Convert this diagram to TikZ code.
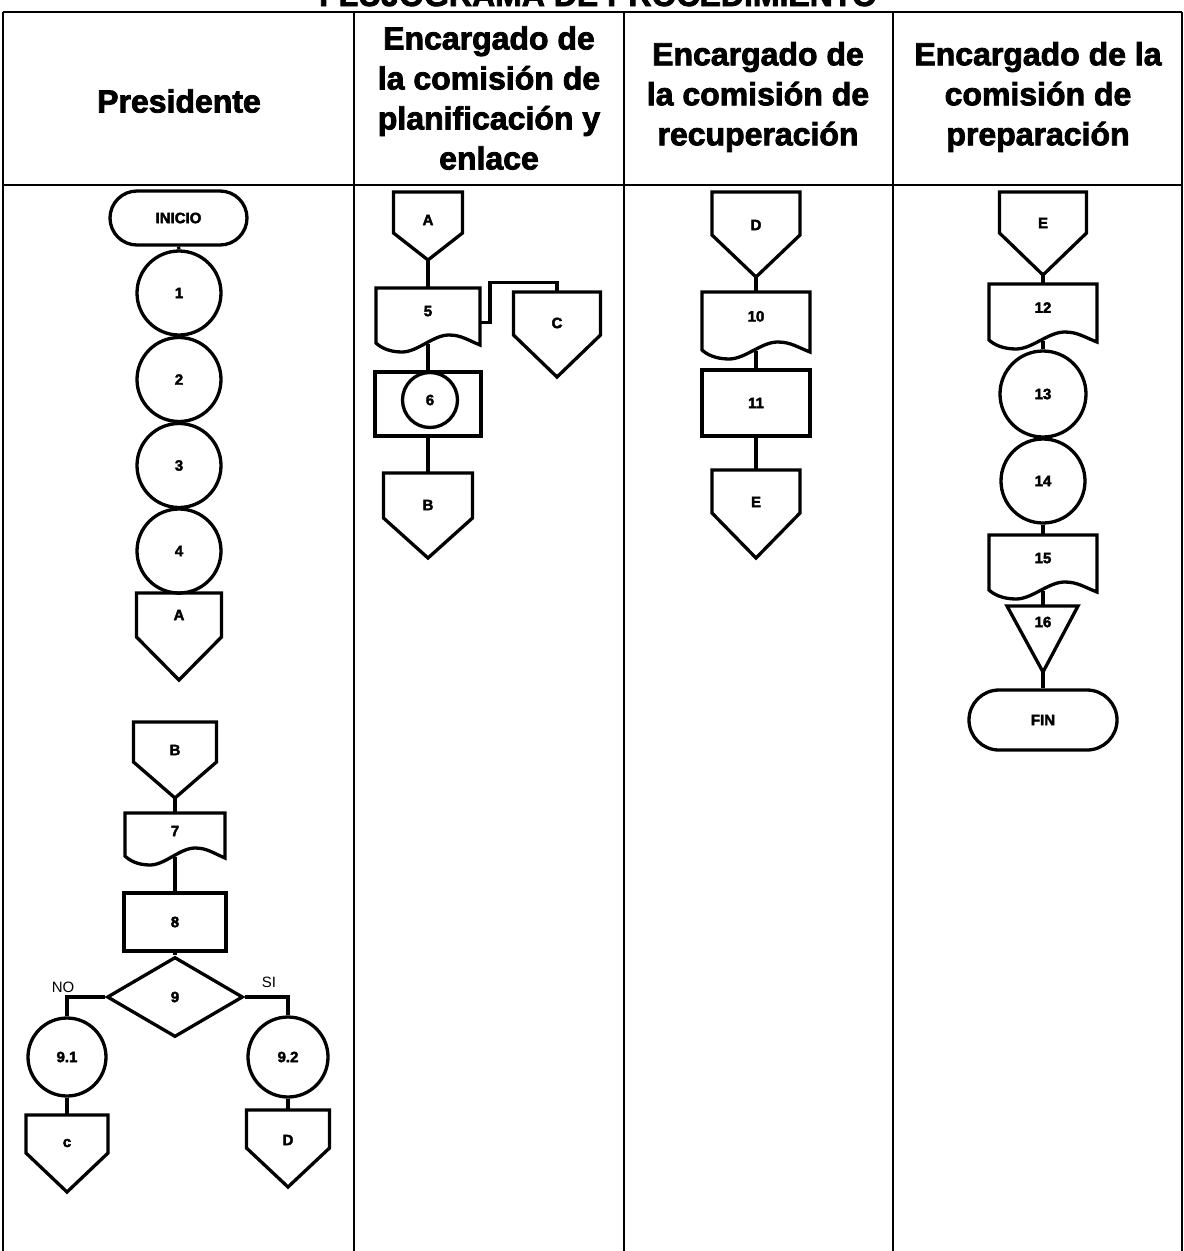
\documentclass[tikz,border=0pt]{standalone}
\usepackage{fontspec}
\setmainfont{Liberation Sans}
\newfontfamily\hvy{Liberation Sans}[BoldFeatures={FakeBold=2.5}]
\usetikzlibrary{shapes.geometric,shapes.misc}

\tikzset{
  shp/.style={draw=black, line width=3.3pt, line join=miter},
  lbl/.style={font=\fontsize{15}{18}\selectfont\hvy\bfseries, inner sep=0pt},
  circ/.style={shp, circle, inner sep=0pt, font=\fontsize{15}{18}\selectfont\hvy\bfseries},
  box/.style={shp, rectangle, inner sep=0pt, font=\fontsize{15}{18}\selectfont\hvy\bfseries},
  term/.style={shp, rounded rectangle, inner sep=0pt, font=\fontsize{15}{18}\selectfont\hvy\bfseries},
  dec/.style={shp, diamond, inner sep=0pt, font=\fontsize{15}{18}\selectfont\hvy\bfseries},
  conn/.style={draw=black, line width=3.2pt},
  gridline/.style={draw=black, line width=2pt},
  head/.style={font=\fontsize{32}{40}\selectfont\hvy\bfseries, align=center, inner sep=0pt},
  yesno/.style={font=\fontsize{15}{18}\selectfont, inner sep=0pt}
}

% off-page connector: name, cx, top, width, rect height, triangle height, label y, label
\newcommand\offpage[8]{%
  \draw[shp] ({#2-#4/2},#3) -- ({#2+#4/2},#3) -- ({#2+#4/2},{#3+#5}) -- (#2,{#3+#5+#6}) -- ({#2-#4/2},{#3+#5}) -- cycle;
  \node[lbl] (#1) at (#2,#7) {#8};
  \coordinate (#1-n) at (#2,#3);
  \coordinate (#1-s) at (#2,{#3+#5+#6});
}

% document: name, x1, x2, top, bottom-left y, label
\newcommand\docshape[6]{%
  \pgfmathsetmacro\dW{#3-#2}%
  \pgfmathsetmacro\dM{(#2+#3)/2}%
  \pgfmathsetmacro\dTy{#5+9}%
  \pgfmathsetmacro\dCy{#5-8}%
  \pgfmathsetmacro\dRy{#5+2}%
  \pgfmathsetmacro\dTx{#2+0.25*\dW}%
  \pgfmathsetmacro\dCx{#2+0.70*\dW}%
  \pgfmathsetmacro\dLy{#4+0.42*(#5-#4)}%
  \pgfmathsetmacro\dEy{#4+0.62*(#5-#4)}%
  \draw[shp] (#2,#4) -- (#3,#4) -- (#3,\dRy)
    .. controls ({#3-0.12*\dW},{#5-3}) and ({#2+0.82*\dW},\dCy) .. (\dCx,\dCy)
    .. controls ({#2+0.55*\dW},\dCy) and ({#2+0.40*\dW},\dTy) .. (\dTx,\dTy)
    .. controls ({#2+0.12*\dW},\dTy) and ({#2+0.04*\dW},{#5+4}) .. (#2,#5) -- cycle;
  \node[lbl] (#1) at (\dM,\dLy) {#6};
  \coordinate (#1-n) at (\dM,#4);
  \coordinate (#1-s) at (\dM,{#5+1});
  \coordinate (#1-e) at (#3,\dEy);
}

\begin{document}
\begin{tikzpicture}[x=1pt, y=-1pt]
\useasboundingbox (0,0) rectangle (1184,1251);
\clip (0,0) rectangle (1184,1251);

% ---------- title (cut off at top) and grid ----------
\node[font=\fontsize{32}{40}\selectfont\hvy\bfseries, anchor=base, inner sep=0pt] (title) at (598,6) {FLUJOGRAMA DE PROCEDIMIENTO};
\draw[gridline] (3,12) -- (1182,12);
\draw[gridline] (3,185) -- (1182,185);
\draw[gridline] (3,12) -- (3,1251);
\draw[gridline] (354,12) -- (354,1251);
\draw[gridline] (624,12) -- (624,1251);
\draw[gridline] (893,12) -- (893,1251);
\draw[gridline] (1182,12) -- (1182,1251);

% ---------- headers ----------
\node[head] (h1) at (179,101) {Presidente};
\node[head] (h2) at (489,98) {Encargado de\\la comisión de\\planificación y\\enlace};
\node[head] (h3) at (758,97) {Encargado de\\la comisión de\\recuperación};
\node[head] (h4) at (1038,97) {Encargado de la\\comisión de\\preparación};

% ---------- column 1: Presidente ----------
\node[term, minimum width=137, minimum height=54] (inicio) at (178.5,218) {INICIO};
\node[circ, minimum size=84] (c1) at (179,293) {1};
\node[circ, minimum size=84] (c2) at (179,379.5) {2};
\node[circ, minimum size=84] (c3) at (179,465.5) {3};
\node[circ, minimum size=84] (c4) at (179,551) {4};
\offpage{pA1}{179}{593}{85}{44}{43}{615}{A}

\offpage{pB1}{175}{722}{83}{40}{36}{750}{B}
\docshape{d7}{125}{225}{813}{856}{7}
\node[box, minimum width=102, minimum height=58] (r8) at (175,922) {8};
\node[dec, minimum width=136, minimum height=80, aspect=1.7] (d9) at (175,997) {9};
\node[yesno] (lno) at (63,987) {NO};
\node[yesno] (lsi) at (269,982) {SI};
\node[circ, minimum size=78] (c91) at (67,1057) {9.1};
\node[circ, minimum size=80] (c92) at (288,1057) {9.2};
\offpage{pC1}{67}{1115}{82}{38}{39}{1143}{c}
\offpage{pD1}{288}{1110}{83}{38}{39}{1140}{D}

\draw[conn] (inicio.south) -- (c1.north);
\draw[conn] (c1.south) -- (c2.north);
\draw[conn] (c2.south) -- (c3.north);
\draw[conn] (c3.south) -- (c4.north);
\draw[conn] (c4.south) -- (pA1-n);
\draw[conn] (pB1-s) -- (d7-n);
\draw[conn] (d7-s) -- (r8.north);
\draw[conn] (r8.south) -- (d9.north);
\draw[conn] (d9.west) -| (c91.north);
\draw[conn] (d9.east) -| (c92.north);
\draw[conn] (c91.south) -- (pC1-n);
\draw[conn] (c92.south) -- (pD1-n);

% ---------- column 2: planificacion y enlace ----------
\offpage{pA2}{428}{192}{69}{41}{27}{220}{A}
\docshape{d5}{376}{480}{288}{343}{5}
\offpage{pC2}{557}{292}{87}{43}{42}{323}{C}
\node[box, minimum width=106, minimum height=64] (r6) at (428,404) {};
\node[circ, minimum size=55] (c6) at (430,400) {6};
\offpage{pB2}{428}{473}{89}{45}{40}{505}{B}

\draw[conn] (pA2-s) -- (d5-n);
\draw[conn] (d5-e) -- ++(10,0) -- ++(0,-40) -| (pC2-n);
\draw[conn] (d5-s) -- (r6.north);
\draw[conn] (r6.south) -- (pB2-n);

% ---------- column 3: recuperacion ----------
\offpage{pD3}{756}{192}{88}{43}{42}{225}{D}
\docshape{d10}{702}{810}{292}{350}{10}
\node[box, minimum width=108, minimum height=66] (r11) at (756,403) {11};
\offpage{pE3}{756}{470}{88}{43}{45}{502}{E}

\draw[conn] (pD3-s) -- (d10-n);
\draw[conn] (d10-s) -- (r11.north);
\draw[conn] (r11.south) -- (pE3-n);

% ---------- column 4: preparacion ----------
\offpage{pE4}{1043}{192}{87}{41}{42}{223}{E}
\docshape{d12}{989}{1097}{284}{340}{12}
\node[circ, minimum size=86] (c13) at (1043,394) {13};
\node[circ, minimum size=84] (c14) at (1043,481) {14};
\docshape{d15}{989}{1097}{535}{590}{15}
\draw[shp] (1007,606) -- (1078,606) -- (1043,672) -- cycle;
\node[lbl] (t16) at (1043,622) {16};
\coordinate (t16-n) at (1043,606);
\coordinate (t16-s) at (1043,672);
\node[term, minimum width=148, minimum height=60] (fin) at (1043,720) {FIN};

\draw[conn] (pE4-s) -- (d12-n);
\draw[conn] (d12-s) -- (c13.north);
\draw[conn] (c13.south) -- (c14.north);
\draw[conn] (c14.south) -- (d15-n);
\draw[conn] (d15-s) -- (t16-n);
\draw[conn] (t16-s) -- (fin.north);
\end{tikzpicture}
\end{document}
